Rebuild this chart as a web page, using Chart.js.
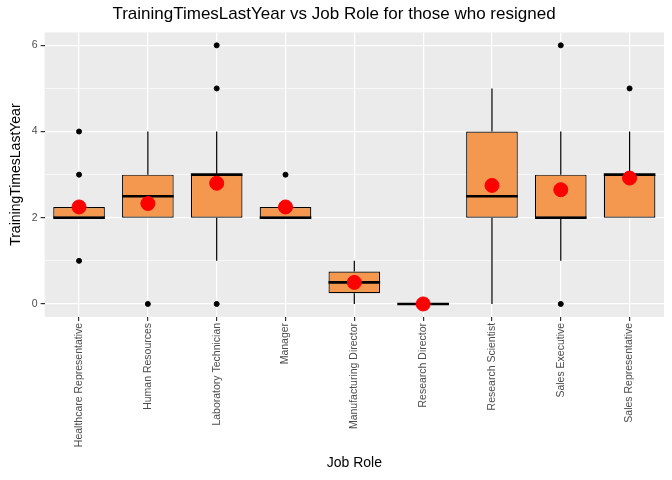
<!DOCTYPE html>
<html><head><script src="https://cdn.jsdelivr.net/npm/chart.js@4"></script>
<style>body{margin:0;background:#fff}#w{width:672px;height:480px}</style></head>
<body><div id="w"><canvas id="c"></canvas></div>
<script>
const categories=["Healthcare Representative","Human Resources","Laboratory Technician","Manager","Manufacturing Director","Research Director","Research Scientist","Sales Executive","Sales Representative"];
const q1=[2,2,2,2,0.25,0,2,2,2];
const q3=[2.25,3,3,2.25,0.75,0,4,3,3];
const medians=[2,2.5,3,2,0.5,0,2.5,2,3];
const whiskLow=[2,2,1,2,0,0,0,1,2];
const whiskHigh=[2.25,4,4,2.25,1,0,5,4,4];
const means=[2.25,2.33,2.8,2.25,0.5,0,2.75,2.65,2.92];
const outliers=[[0,1],[0,3],[0,4],[1,0],[2,0],[2,5],[2,6],[3,3],[7,0],[7,6],[8,5]];
const yTicks=[0,2,4,6];

const boxPlugin={id:'box',
 beforeDraw(ch){const a=ch.chartArea,c=ch.ctx;c.save();c.fillStyle='#EBEBEB';c.fillRect(a.left,a.top,a.right-a.left,a.bottom-a.top);c.restore();},
 beforeDatasetsDraw(ch){const x=ch.scales.x,y=ch.scales.y,c=ch.ctx;c.save();c.strokeStyle='#000';c.lineWidth=1.2;
  categories.forEach((k,i)=>{const px=x.getPixelForValue(i);c.beginPath();c.moveTo(px,y.getPixelForValue(whiskLow[i]));c.lineTo(px,y.getPixelForValue(q1[i]));c.moveTo(px,y.getPixelForValue(q3[i]));c.lineTo(px,y.getPixelForValue(whiskHigh[i]));c.stroke();});c.restore();},
 afterDatasetDraw(ch,args){if(args.index!==0)return;const x=ch.scales.x,y=ch.scales.y,c=ch.ctx;const meta=ch.getDatasetMeta(0);c.save();c.strokeStyle='#000';c.lineWidth=2.6;
  meta.data.forEach((b,i)=>{const py=y.getPixelForValue(medians[i]);c.beginPath();c.moveTo(b.x-b.width/2,py);c.lineTo(b.x+b.width/2,py);c.stroke();});c.restore();}
};

new Chart(document.getElementById('c'),{
 type:'bar',
 data:{labels:categories,datasets:[
  {data:categories.map((k,i)=>[q1[i],q3[i]]),backgroundColor:'#F4984F',borderColor:'#000',borderWidth:1.2,borderSkipped:false,categoryPercentage:1,barPercentage:0.75,order:3,minBarLength:1},
  {type:'scatter',data:outliers.map(o=>({x:categories[o[0]],y:o[1]})),backgroundColor:'#000',borderColor:'#000',pointRadius:2.5,order:2},
  {type:'scatter',data:means.map((m,i)=>({x:categories[i],y:m})),backgroundColor:'#FF0000',borderColor:'#FF0000',pointRadius:7,order:1}
 ]},
 options:{responsive:true,maintainAspectRatio:false,animation:false,
  layout:{padding:{left:4,right:8,top:0,bottom:4}},
  plugins:{legend:{display:false},tooltip:{enabled:false},
   title:{display:true,text:'TrainingTimesLastYear vs Job Role for those who resigned',color:'#000',font:{family:'Liberation Sans',size:17,weight:'normal'},padding:{top:4,bottom:8}}},
  scales:{
   x:{type:'category',offset:true,grid:{offset:false,color:'#fff',lineWidth:1.2,drawTicks:true,tickLength:4,tickColor:'#333'},border:{display:false},
    ticks:{maxRotation:90,minRotation:90,color:'#4D4D4D',font:{family:'Liberation Sans',size:10.5},padding:2},
    title:{display:true,text:'Job Role',color:'#000',font:{family:'Liberation Sans',size:14},padding:{top:6}}},
   y:{min:-0.3,max:6.3,afterBuildTicks(s){s.ticks=[0,1,2,3,4,5,6].map(v=>({value:v}));},
    grid:{color:'#fff',lineWidth:c=>yTicks.includes(c.tick.value)?1.2:0.6,tickLength:4,tickColor:c=>yTicks.includes(c.tick.value)?'#333':'rgba(0,0,0,0)'},border:{display:false},
    ticks:{color:'#4D4D4D',font:{family:'Liberation Sans',size:10.5},padding:3,callback:v=>yTicks.includes(v)?String(v):''},
    title:{display:true,text:'TrainingTimesLastYear',color:'#000',font:{family:'Liberation Sans',size:14},padding:{bottom:4}}}
  }}
 ,plugins:[boxPlugin]});
</script></body></html>
